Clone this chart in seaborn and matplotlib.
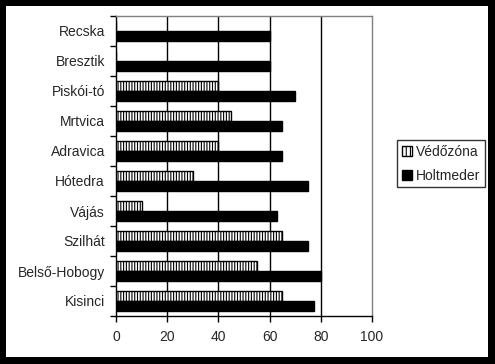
import pandas as pd
import seaborn as sns
import matplotlib.pyplot as plt
from matplotlib.patches import Patch, Rectangle

sites = ["Recska", "Bresztik", "Piskói-tó", "Mrtvica", "Adravica",
         "Hótedra", "Vájás", "Szilhát", "Belső-Hobogy", "Kisinci"]
vedozona = [0, 0, 40, 45, 40, 30, 10, 65, 55, 65]
holtmeder = [60, 60, 70, 65, 65, 75, 63, 75, 80, 77.5]
series = ["Védőzóna", "Holtmeder"]
x_ticks = [0, 20, 40, 60, 80, 100]

df = pd.DataFrame({
    "site": sites * 2,
    "value": vedozona + holtmeder,
    "type": [series[0]] * len(sites) + [series[1]] * len(sites),
})

sns.set_style("white")
plt.rcParams["font.family"] = ["Liberation Sans", "DejaVu Sans"]
plt.rcParams["hatch.linewidth"] = 0.8

fig = plt.figure(figsize=(4.95, 3.64), dpi=100)
fig.patch.set_facecolor("black")
fig.patches.append(Rectangle((6 / 495, 7 / 364), 482 / 495, 351 / 364,
                             transform=fig.transFigure, facecolor="white",
                             edgecolor="none", zorder=-5))

ax = fig.add_axes([116 / 495, 48 / 364, 256 / 495, 300 / 364])
ax.set_facecolor("white")

sns.barplot(data=df, y="site", x="value", hue="type", hue_order=series,
            order=sites, orient="h", palette=["white", "black"],
            edgecolor="black", linewidth=1, width=0.67, legend=False,
            saturation=1, ax=ax, zorder=3)

for bar in ax.containers[0]:
    bar.set_hatch("||||||")

ax.set_xlim(0, 100)
ax.set_ylim(len(sites) - 0.5, -0.5)
ax.set_xticks(x_ticks)
ax.set_xticklabels([str(t) for t in x_ticks], fontsize=10)
ax.set_yticks(range(len(sites)))
ax.set_yticklabels(sites, fontsize=10)
ax.set_yticks([i - 0.5 for i in range(len(sites) + 1)], minor=True)
ax.tick_params(axis="y", which="major", length=0, pad=8)
ax.tick_params(axis="y", which="minor", length=4, width=1, color="black",
               direction="out", left=True)
ax.tick_params(axis="x", length=4, width=1, color="black", direction="out",
               bottom=True, pad=6)
ax.set_xlabel("")
ax.set_ylabel("")

for v in [20, 40, 60, 80]:
    ax.axvline(v, color="black", linewidth=1, zorder=1)

ax.spines["left"].set_color("black")
ax.spines["bottom"].set_color("black")
ax.spines["top"].set_color("#808080")
ax.spines["right"].set_color("#808080")
for s in ax.spines.values():
    s.set_linewidth(1)
    s.set_visible(True)

handles = [Patch(facecolor="white", edgecolor="black", hatch="||||", label=series[0]),
           Patch(facecolor="black", edgecolor="black", label=series[1])]
leg = fig.legend(handles=handles, loc="upper left",
                 bbox_to_anchor=(397 / 495, 224 / 364), fontsize=10,
                 frameon=True, fancybox=False, handlelength=0.7,
                 handleheight=0.7, handletextpad=0.3, borderpad=0.35,
                 labelspacing=0.7, borderaxespad=0)
leg.get_frame().set_edgecolor("black")
leg.get_frame().set_linewidth(1)

fig.savefig("out.png", dpi=100, facecolor="black")
